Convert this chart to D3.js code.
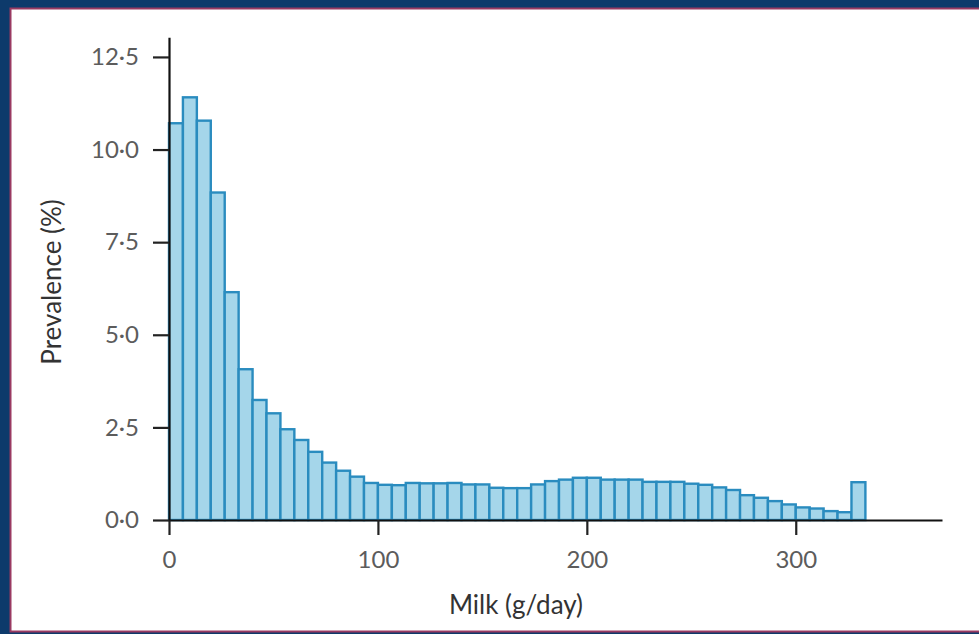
<!DOCTYPE html>
<html>
<head>
<meta charset="utf-8">
<script src="https://cdn.jsdelivr.net/npm/d3@7"></script>
<style>
  html, body { margin: 0; padding: 0; background: #0d3a6b; }
  svg { display: block; }
  text { font-family: Lato, "Open Sans", sans-serif; }
</style>
</head>
<body>
<svg id="chart" width="979" height="634"></svg>
<script>
// Histogram of daily milk intake: 50 bins of 20/3 g/day from 0 to ~333 g/day
const binWidth = 20 / 3;
const prevalence = [
  10.71, 11.41, 10.78, 8.84, 6.15, 4.07, 3.24, 2.88, 2.45, 2.16,
  1.84, 1.55, 1.33, 1.17, 1.00, 0.95, 0.94, 1.00, 0.99, 0.99,
  1.00, 0.96, 0.96, 0.87, 0.86, 0.86, 0.96, 1.05, 1.09, 1.14,
  1.14, 1.09, 1.09, 1.09, 1.03, 1.03, 1.03, 0.98, 0.95, 0.88,
  0.81, 0.67, 0.60, 0.51, 0.42, 0.34, 0.31, 0.24, 0.21, 1.02
];
const xTicks = [0, 100, 200, 300];
const yTicks = [0, 2.5, 5, 7.5, 10, 12.5];
const xTitle = "Milk (g/day)";
const yTitle = "Prevalence (%)";

const bins = prevalence.map((v, i) => ({ x0: i * binWidth, x1: (i + 1) * binWidth, value: v }));

const svg = d3.select("#chart");
const W = 979, H = 634;

// Page frame: navy surround and white panel with a thin maroon edge
svg.append("rect").attr("x", 0).attr("y", 0).attr("width", W).attr("height", H).attr("fill", "#0d3a6b");
svg.append("rect")
  .attr("x", 10.5).attr("y", 8.5).attr("width", 980).attr("height", 623)
  .attr("fill", "#ffffff").attr("stroke", "#9a3a62").attr("stroke-width", 2);

const x = d3.scaleLinear().domain([0, 370]).range([169, 942]);
const y = d3.scaleLinear().domain([0, 13.03]).range([520, 37.3]);

const dotFmt = v => d3.format(".1f")(v).replace(".", "\u00B7");

// Bars
svg.append("g").selectAll("rect")
  .data(bins)
  .join("rect")
  .attr("x", d => x(d.x0))
  .attr("width", d => x(d.x1) - x(d.x0))
  .attr("y", d => y(d.value))
  .attr("height", d => y(0) - y(d.value))
  .attr("fill", "#a5d6ea")
  .attr("stroke", "#2a8cbf")
  .attr("stroke-width", 2.4);

// Axes
const xAxis = svg.append("g")
  .attr("transform", `translate(0,${y(0)})`)
  .call(d3.axisBottom(x).tickValues(xTicks).tickSize(15).tickSizeOuter(0).tickPadding(16));
const yAxis = svg.append("g")
  .attr("transform", `translate(${x(0)},0)`)
  .call(d3.axisLeft(y).tickValues(yTicks).tickFormat(dotFmt).tickSize(16).tickSizeOuter(0).tickPadding(14));

[xAxis, yAxis].forEach(g => {
  g.select(".domain").attr("stroke", "#111").attr("stroke-width", 2.2);
  g.selectAll(".tick line").attr("stroke", "#222").attr("stroke-width", 2.2);
  g.selectAll(".tick text")
    .attr("fill", "#5c5c5c")
    .style("font-size", "24px")
    .style("font-family", "Lato, 'Open Sans', sans-serif");
});

// Axis titles
svg.append("text")
  .attr("x", 516).attr("y", 614)
  .attr("text-anchor", "middle")
  .attr("fill", "#333")
  .style("font-size", "26px")
  .text(xTitle);

svg.append("text")
  .attr("transform", "translate(61,282) rotate(-90)")
  .attr("text-anchor", "middle")
  .attr("fill", "#333")
  .style("font-size", "26px")
  .text(yTitle);
</script>
</body>
</html>
